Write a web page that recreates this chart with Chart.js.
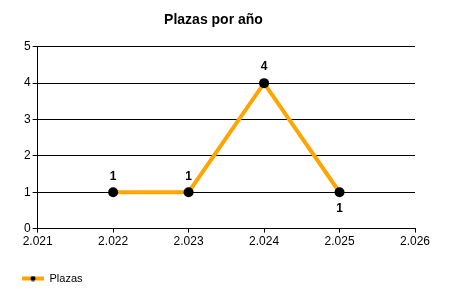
<!DOCTYPE html>
<html>
<head>
<meta charset="utf-8">
<script src="https://cdn.jsdelivr.net/npm/chart.js@4"></script>
<style>
  html, body { margin:0; padding:0; background:#fff; }
  #wrap { width:450px; height:300px; }
</style>
</head>
<body>
<div id="wrap"><canvas id="chart" width="450" height="300"></canvas></div>
<script>
// data
const years = [2022, 2023, 2024, 2025];
const plazas = [1, 1, 4, 1];
const labelPos = ['top', 'top', 'top', 'bottom'];
const xTicks = [2021, 2022, 2023, 2024, 2025, 2026];

const FONT = 'Arial, "Liberation Sans", sans-serif';

function fmtYear(v){ return String(v).replace(/(\d)(\d{3})$/, '$1.$2'); }

/* legend marker: orange line with a black dot */
function legendMarker(){
  const c = document.createElement('canvas');
  c.width = 22; c.height = 6;
  const g = c.getContext('2d');
  g.fillStyle = '#FFA500';
  g.fillRect(0, 1, 22, 4);
  g.fillStyle = '#000';
  g.beginPath(); g.arc(11, 3, 2.5, 0, Math.PI*2); g.fill();
  return c;
}

/* value labels above / below the points */
const valueLabels = {
  id: 'valueLabels',
  afterDatasetsDraw(chart){
    const ctx = chart.ctx;
    const meta = chart.getDatasetMeta(0);
    ctx.save();
    ctx.font = 'bold 12px ' + FONT;
    ctx.fillStyle = '#000';
    ctx.textAlign = 'center';
    ctx.textBaseline = 'middle';
    meta.data.forEach((pt, i) => {
      const dy = labelPos[i] === 'top' ? -16 : 16;
      ctx.fillText(String(plazas[i]), pt.x, pt.y + dy);
    });
    ctx.restore();
  }
};

const points = years.map((y, i) => ({x: y, y: plazas[i]}));

new Chart(document.getElementById('chart'), {
  type: 'line',
  data: {
    datasets: [{
      label: 'Plazas',
      data: points,
      borderColor: '#FFA500',
      borderWidth: 4,
      pointRadius: 5,
      pointBackgroundColor: '#000',
      pointBorderColor: '#000',
      pointBorderWidth: 0,
      tension: 0
    }]
  },
  options: {
    responsive: false,
    animation: false,
    layout: { padding: { left: 12, right: 35, top: 0, bottom: 6 } },
    plugins: {
      title: {
        display: true,
        text: 'Plazas por año',
        color: '#000',
        font: { family: FONT, size: 14, weight: 'bold' },
        padding: { top: 12, bottom: 18 }
      },
      legend: {
        display: true,
        position: 'bottom',
        align: 'start',
        labels: {
          usePointStyle: true,
          pointStyle: legendMarker(),
          pointStyleWidth: 22,
          color: '#000',
          font: { family: FONT, size: 11 },
          padding: 10
        }
      },
      tooltip: { enabled: false }
    },
    scales: {
      x: {
        type: 'linear',
        min: 2021,
        max: 2026,
        afterBuildTicks: axis => { axis.ticks = xTicks.map(v => ({value: v})); },
        afterFit: axis => { axis.height += 12; },
        ticks: {
          color: '#000',
          font: { family: FONT, size: 12 },
          padding: 2,
          maxRotation: 0,
          callback: v => fmtYear(v)
        },
        grid: { drawOnChartArea: false, drawTicks: true, tickLength: 4, color: '#000' },
        border: { color: '#000', width: 1 }
      },
      y: {
        min: 0,
        max: 5,
        afterFit: axis => { axis.width += 10; },
        ticks: {
          stepSize: 1,
          color: '#000',
          font: { family: FONT, size: 12 },
          padding: 2
        },
        grid: { color: '#000', tickLength: 5, lineWidth: 1 },
        border: { color: '#000', width: 1 }
      }
    }
  },
  plugins: [valueLabels]
});
</script>
</body>
</html>
